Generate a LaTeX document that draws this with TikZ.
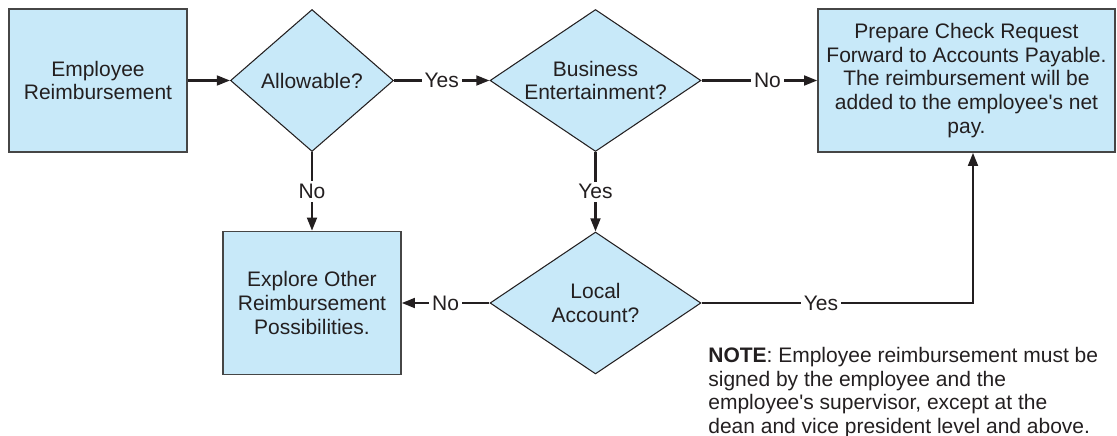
\documentclass[tikz,border=0pt]{standalone}
\usepackage{fontspec}
\setmainfont{Liberation Sans}
\usetikzlibrary{shapes.geometric,arrows.meta}
\definecolor{boxblue}{RGB}{200,233,249}
\definecolor{inkgray}{RGB}{35,31,32}
\definecolor{rimgray}{RGB}{70,70,70}
\begin{document}
\begin{tikzpicture}[x=0.02cm, y=-0.02cm,
	every node/.style={font=\fontsize{11.95}{13.4}\selectfont, text=inkgray},
	stepbox/.style={draw=rimgray, line width=0.9pt, fill=boxblue, minimum width=3.56cm, minimum height=2.86cm, align=center, inner sep=0pt},
	query/.style={diamond, aspect=1.48, draw=inkgray, line width=0.6pt, fill=boxblue, minimum width=4.22cm, minimum height=2.84cm, align=center, inner sep=0pt},
	flow/.style={-{Triangle[length=7.5pt,width=5.6pt]}, line width=1.3pt, draw=inkgray},
	tag/.style={fill=white, inner sep=1.6pt}]
		\useasboundingbox (0,0) rectangle (1117,436);
		\node[stepbox] (emp)at(98,80.5) {Employee\\Reimbursement};
		\node[query, aspect=1.14, minimum width=3.26cm] (allow)at(312,80.5) {Allowable?};
		\node[query] (bus)at(595.5,80.5) {Business\\Entertainment?};
		\node[stepbox, minimum width=5.94cm] (prep)at(966.5,80.5) {Prepare Check Request\\Forward to Accounts Payable.\\The reimbursement will be\\added to the employee\textquotesingle s net\\pay.};
		\node[stepbox] (explore)at(312,303) {Explore Other\\Reimbursement\\Possibilities.};
		\node[query] (local)at(595.5,303) {Local\\Account?};
		\coordinate (bend) at (973,303);
		\draw[flow] (emp) -- (allow);
		\draw[flow] (allow) -- node[tag] {Yes} (bus);
		\draw[flow] (bus) -- node[tag,pos=0.57] {No} (prep);
		\draw[flow] (allow) -- node[tag] {No} (explore);
		\draw[flow] (bus) -- node[tag] {Yes} (local);
		\draw[flow] (local) -- node[tag] {No} (explore);
		\draw[flow] (local) -- node[tag,pos=0.44] {Yes} (bend) -- (bend |- prep.south);
		
		\node[anchor=north west, align=left, inner sep=0pt] (note) at (708,347) {\textbf{NOTE}: Employee reimbursement must be\\signed by the employee and the\\employee\textquotesingle s supervisor, except at the\\dean and vice president level and above.};
		\end{tikzpicture}
\end{document}
